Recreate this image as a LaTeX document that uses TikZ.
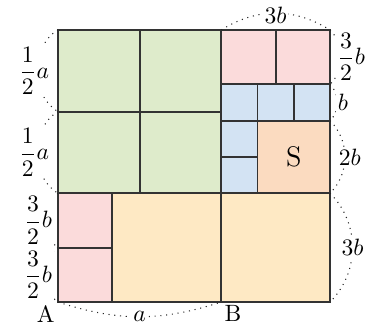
\documentclass[tikz,border=0pt]{standalone}
\usepackage{amsmath}
\usepackage{tikz}
\usetikzlibrary{positioning}
\definecolor{tilegreen}{HTML}{DEEBCB}
\definecolor{tilepink}{HTML}{FBDBDB}
\definecolor{tileblue}{HTML}{D3E3F3}
\definecolor{tileorange}{HTML}{FBDBC0}
\definecolor{tileyellow}{HTML}{FEE9C4}

\begin{document}
\begin{tikzpicture}[
    x=0.54cm, y=0.54cm,
    tile/.style={draw=black!80, line width=0.8pt},
    dim/.style={dotted, line width=0.45pt, draw=black!85},
    lbl/.style={fill=white, inner sep=0.8pt}
]
\useasboundingbox (-1.599,-0.662) rectangle (8.657,8.327);
\coordinate (A) at (0,0);
\coordinate (B) at (4.5,0);
\coordinate (L15) at (0,1.5);
\coordinate (L3) at (0,3);
\coordinate (L525) at (0,5.25);
\coordinate (TL) at (0,7.5);
\coordinate (TM) at (4.5,7.5);
\coordinate (TR) at (7.5,7.5);
\coordinate (R6) at (7.5,6);
\coordinate (R5) at (7.5,5);
\coordinate (R3) at (7.5,3);
\coordinate (BR) at (7.5,0);
\filldraw[tile, fill=tilegreen] (0,3) rectangle (2.25,5.25);
\filldraw[tile, fill=tilegreen] (2.25,3) rectangle (4.5,5.25);
\filldraw[tile, fill=tilegreen] (0,5.25) rectangle (2.25,7.5);
\filldraw[tile, fill=tilegreen] (2.25,5.25) rectangle (4.5,7.5);
\filldraw[tile, fill=tilepink] (4.5,6) rectangle (6,7.5);
\filldraw[tile, fill=tilepink] (6,6) rectangle (7.5,7.5);
\filldraw[tile, fill=tileblue] (4.5,5) rectangle (5.5,6);
\filldraw[tile, fill=tileblue] (5.5,5) rectangle (6.5,6);
\filldraw[tile, fill=tileblue] (6.5,5) rectangle (7.5,6);
\filldraw[tile, fill=tileblue] (4.5,4) rectangle (5.5,5);
\filldraw[tile, fill=tileblue] (4.5,3) rectangle (5.5,4);
\filldraw[tile, fill=tileorange] (5.5,3) rectangle (7.5,5);
\filldraw[tile, fill=tilepink] (0,0) rectangle (1.5,1.5);
\filldraw[tile, fill=tilepink] (0,1.5) rectangle (1.5,3);
\filldraw[tile, fill=tileyellow] (1.5,0) rectangle (4.5,3);
\filldraw[tile, fill=tileyellow] (4.5,0) rectangle (7.5,3);
\node[font=\large] (S) at (6.5,4) {S};
\node[anchor=north east, inner sep=1.2pt] (labA) at (A) {A};
\node[anchor=north west, inner sep=1.2pt] (labB) at (B) {B};
\draw[dim] (TL) to[bend right=60] node[lbl, xshift=-1.4pt] (ha1) {$\dfrac{1}{2}a$} (L525);
\draw[dim] (L525) to[bend right=60] node[lbl, xshift=-1.4pt] (ha2) {$\dfrac{1}{2}a$} (L3);
\draw[dim] (L3) to[bend right=55] node[lbl, xshift=-2.9pt] (tb1) {$\dfrac{3}{2}b$} (L15);
\draw[dim] (L15) to[bend right=55] node[lbl, xshift=-2.9pt] (tb2) {$\dfrac{3}{2}b$} (A);
\draw[dim] (A) to[bend right=18] node[lbl] (da) {$a$} (B);
\draw[dim] (TM) to[bend left=32] node[lbl, yshift=-0.8pt] (top3b) {$3b$} (TR);
\draw[dim] (TR) to[bend left=45] node[lbl, xshift=4.2pt] (r32b) {$\dfrac{3}{2}b$} (R6);
\draw[dim] (R6) to[bend left=45] node[lbl, xshift=2.3pt] (rb) {$b$} (R5);
\draw[dim] (R5) to[bend left=45] node[lbl, xshift=2pt] (r2b) {$2b$} (R3);
\draw[dim] (R3) to[bend left=45] node[lbl] (r3b) {$3b$} (BR);
\end{tikzpicture}
\end{document}
